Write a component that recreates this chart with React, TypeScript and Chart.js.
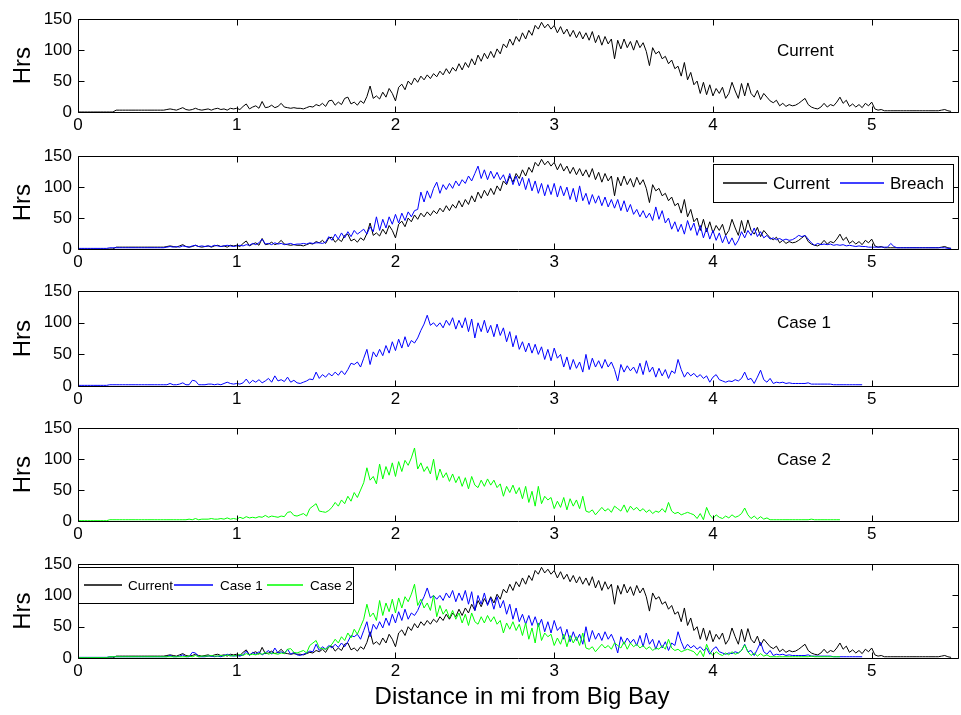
import React, { useEffect, useRef } from "react";
import { Chart, registerables } from "chart.js";

Chart.register(...registerables);

// Sampling interval of the distance grid, in hundredths of a mile.
const STEP_HUNDREDTHS = 2;

// Hours per distance bin, starting at 0 mi, one value every 0.02 mi.
const current: number[] = [
  0, 0, 0, 0, 0, 0, 0, 0, 0, 0,
  0, 0, 3, 3, 3, 3, 3, 3, 3, 3,
  3, 3, 3, 3, 3, 3, 3, 3, 4, 5,
  4, 3, 5, 7, 4, 3, 4, 6, 4, 3,
  4, 5, 3, 5, 6, 4, 5, 3, 6, 5,
  6, 4, 9, 13, 5, 8, 10, 6, 17, 7,
  8, 11, 7, 9, 14, 8, 7, 6, 7, 6,
  6, 5, 7, 9, 8, 12, 10, 14, 9, 18,
  19, 11, 16, 12, 22, 24, 13, 16, 11, 18,
  14, 25, 42, 22, 26, 21, 32, 24, 38, 30,
  18, 40, 45, 36, 50, 44, 55, 48, 58, 52,
  60, 54, 62, 57, 66, 60, 70, 62, 72, 66,
  78, 68, 80, 72, 86, 76, 92, 82, 95, 86,
  98, 88, 102, 94, 110, 104, 118, 108, 122, 114,
  128, 118, 132, 124, 140, 134, 145, 136, 142, 134,
  140, 128, 138, 126, 134, 122, 132, 120, 130, 118,
  128, 116, 130, 112, 124, 108, 122, 110, 118, 86,
  116, 102, 118, 104, 114, 100, 116, 104, 112, 98,
  75, 104, 94, 98, 86, 90, 78, 84, 70, 74,
  58, 80, 52, 64, 44, 50, 30, 48, 28, 44,
  26, 38, 30, 40, 22, 30, 48, 34, 22, 46,
  26, 47, 30, 24, 35, 20, 30, 24, 18, 15,
  19, 10, 14, 9, 12, 10, 11, 14, 18, 22,
  12, 8, 6, 5, 8, 14, 8, 12, 10, 16,
  24, 14, 19, 9, 13, 8, 12, 7, 14, 10,
  16, 5, 3, 4, 2, 2, 2, 2, 2, 2,
  2, 2, 2, 2, 2, 2, 2, 2, 2, 2,
  2, 2, 3, 4, 2, 1,
];

const breach: number[] = [
  1, 1, 1, 1, 1, 1, 1, 1, 1, 1,
  2, 2, 2, 2, 2, 2, 2, 2, 2, 2,
  2, 2, 2, 2, 2, 2, 2, 2, 3, 4,
  3, 4, 3, 5, 4, 3, 5, 6, 4, 5,
  4, 5, 4, 6, 5, 4, 5, 6, 5, 4,
  5, 6, 5, 7, 6, 9, 7, 10, 16, 8,
  9, 7, 10, 8, 9, 7, 8, 9, 7, 8,
  8, 9, 8, 10, 9, 10, 10, 9, 11, 20,
  14, 24, 16, 26, 18, 28, 20, 30, 24, 28,
  32, 24, 36, 28, 52, 30, 48, 34, 52, 40,
  56, 42, 58, 46, 60, 52, 62, 64, 92, 76,
  94, 82, 98, 108, 90, 104, 96, 106, 98, 110,
  102, 112, 106, 118, 110, 122, 134, 114, 128, 112,
  126, 114, 124, 112, 120, 106, 122, 104, 118, 102,
  116, 96, 114, 94, 110, 90, 106, 86, 104, 88,
  106, 84, 102, 86, 100, 80, 98, 76, 102, 78,
  90, 72, 88, 74, 86, 70, 84, 68, 80, 66,
  80, 62, 78, 60, 72, 56, 64, 52, 62, 50,
  58, 46, 68, 48, 62, 42, 50, 32, 44, 28,
  40, 24, 46, 30, 42, 22, 38, 18, 34, 16,
  30, 14, 26, 10, 22, 8, 18, 6, 14, 28,
  18, 30, 22, 34, 20, 28, 18, 22, 16, 18,
  15, 17, 14, 16, 14, 15, 18, 22, 20, 22,
  16, 10, 6, 9, 7, 8, 7, 8, 6, 7,
  6, 7, 5, 6, 5, 4, 5, 4, 4, 3,
  3, 3, 3, 3, 3, 3, 9, 4, 2, 2,
  2, 2, 2, 2, 2, 2, 2, 2, 2, 2,
  2, 2, 2, 2, 1, 1,
];

const case1: number[] = [
  1, 1, 1, 1, 1, 1, 1, 1, 1, 1,
  2, 2, 2, 2, 2, 2, 2, 2, 2, 2,
  2, 2, 2, 2, 2, 2, 2, 2, 2, 4,
  2, 2, 3, 5, 2, 2, 9, 8, 2, 2,
  2, 3, 3, 2, 3, 2, 4, 6, 4, 3,
  4, 3, 5, 11, 4, 9, 6, 10, 5, 8,
  12, 6, 16, 8, 10, 7, 14, 6, 9, 5,
  4, 6, 8, 11, 10, 22, 12, 18, 14, 20,
  16, 22, 17, 24, 18, 26, 36, 34, 38, 30,
  44, 58, 34, 54, 46, 58, 48, 64, 52, 70,
  56, 74, 60, 78, 62, 72, 68, 76, 88, 98,
  112, 96, 100, 94, 100, 92, 104, 96, 108, 90,
  104, 92, 108, 86, 106, 76, 100, 86, 104, 84,
  96, 78, 98, 80, 92, 70, 86, 62, 80, 58,
  70, 54, 68, 52, 66, 50, 62, 42, 58, 40,
  60, 44, 50, 30, 46, 26, 42, 28, 38, 22,
  50, 26, 44, 30, 40, 28, 42, 30, 38, 26,
  8, 34, 22, 32, 24, 30, 20, 36, 18, 40,
  22, 30, 14, 28, 16, 26, 12, 24, 20, 42,
  26, 14, 22, 16, 20, 14, 18, 12, 16, 6,
  14, 18, 10, 8, 6, 8, 7, 10, 8, 12,
  22, 10, 12, 4, 14, 25, 10, 6, 12, 4,
  6, 5, 6, 4, 5, 4, 4, 4, 4, 4,
  5, 3, 3, 3, 3, 3, 3, 3, 2, 2,
  2, 2, 2, 2, 2, 2, 2, 2,
];

const case2: number[] = [
  0.5, 0.5, 0.5, 0.5, 0.5, 0.5, 0.5, 0.5, 0.5, 0.5,
  2, 2, 2, 2, 2, 2, 2, 2, 2, 2,
  2, 2, 2, 2, 2, 2, 2, 2, 2, 2,
  2, 2, 2, 2, 2, 3, 2, 4, 2, 3,
  3, 3, 4, 3, 3, 4, 3, 5, 3, 4,
  3, 6, 4, 7, 5, 6, 5, 7, 6, 9,
  6, 8, 7, 6, 8, 7, 14, 15, 9, 8,
  10, 12, 8, 20, 24, 28, 16, 15, 14, 17,
  22, 30, 24, 34, 28, 40, 32, 46, 38, 50,
  62, 86, 66, 72, 60, 92, 68, 88, 74, 94,
  72, 96, 80, 98, 90, 102, 118, 84, 94, 80,
  88, 76, 100, 66, 84, 70, 78, 64, 76, 62,
  72, 56, 70, 52, 72, 58, 54, 66, 56, 68,
  58, 66, 54, 60, 40, 56, 46, 58, 44, 54,
  36, 56, 30, 48, 24, 56, 28, 40, 34, 38,
  20, 32, 22, 38, 18, 36, 24, 34, 20, 40,
  16, 14, 18, 10, 16, 22, 16, 20, 14, 24,
  20, 16, 26, 14, 24, 18, 22, 16, 20, 14,
  18, 12, 16, 14, 20, 14, 30, 16, 12, 14,
  10, 12, 14, 12, 10, 4, 12, 2, 22, 10,
  4, 10, 6, 4, 8, 5, 10, 6, 8, 12,
  21, 10, 4, 8, 3, 7, 3, 5, 2, 2,
  2, 2, 2, 2, 2, 2, 2, 2, 2, 2,
  2, 3, 2, 2, 2, 2, 2, 2, 2, 2,
  2,
];

const xTicks = [0, 1, 2, 3, 4, 5];
const yTicks = [0, 50, 100, 150];
const X_MAX = 5.55;
const Y_MAX = 150;
const Y_TITLE = "Hrs";
const X_TITLE = "Distance in mi from Big Bay";

const BLACK = "#000000";
const BLUE = "#0000ff";
const GREEN = "#00ff00";
const FONT = '"Liberation Sans", Arial, Helvetica, sans-serif';

// Figure geometry (page pixels)
const FIG_W = 961;
const FIG_H = 715;
const PAD_TOP = 12;
const Y_AXIS_W = 78;
const X_AXIS_H = 30;
const PLOT_RIGHT = 959;
const TICK_LEN = 6;

type Series = { label: string; values: number[]; color: string };
type LegendItem = { lineFrom: number; lineTo: number; textX: number };
type LegendBox = {
  x: number;
  y: number;
  w: number;
  h: number;
  rowY: number;
  fontSize: number;
  items: LegendItem[];
};
type Panel = {
  top: number;
  bottom: number;
  series: Series[];
  note?: string;
  legend?: LegendBox;
  xTitle?: boolean;
};

const sCurrent: Series = { label: "Current", values: current, color: BLACK };
const sBreach: Series = { label: "Breach", values: breach, color: BLUE };
const sCase1: Series = { label: "Case 1", values: case1, color: BLUE };
const sCase2: Series = { label: "Case 2", values: case2, color: GREEN };

const panels: Panel[] = [
  { top: 15, bottom: 112, series: [sCurrent], note: "Current" },
  {
    top: 152,
    bottom: 249,
    series: [sCurrent, sBreach],
    legend: {
      x: 713,
      y: 164,
      w: 240,
      h: 38,
      rowY: 183,
      fontSize: 17,
      items: [
        { lineFrom: 723, lineTo: 767, textX: 773 },
        { lineFrom: 840, lineTo: 884, textX: 890 },
      ],
    },
  },
  { top: 287, bottom: 386, series: [sCase1], note: "Case 1" },
  { top: 424, bottom: 521, series: [sCase2], note: "Case 2" },
  {
    top: 560,
    bottom: 658,
    series: [sCurrent, sCase1, sCase2],
    xTitle: true,
    legend: {
      x: 78,
      y: 567,
      w: 275,
      h: 36,
      rowY: 585,
      fontSize: 13.5,
      items: [
        { lineFrom: 84, lineTo: 122, textX: 128 },
        { lineFrom: 174, lineTo: 213, textX: 220 },
        { lineFrom: 267, lineTo: 303, textX: 310 },
      ],
    },
  },
];

const toPoints = (values: number[]) =>
  values.map((y, i) => ({ x: (i * STEP_HUNDREDTHS) / 100, y }));

// Axes box with inward ticks on all four sides, plus titles, notes and legends.
function makeFramePlugin(panel: Panel) {
  return {
    id: "axesFrame",
    afterDatasetsDraw(chart: any) {
      const { ctx, chartArea: a, scales } = chart;
      const offset = panel.top - PAD_TOP; // canvas y = page y - offset
      const left = Math.round(a.left) + 0.5;
      const right = Math.round(a.right) - 0.5;
      const top = Math.round(a.top) + 0.5;
      const bottom = Math.round(a.bottom) + 0.5;

      ctx.save();
      ctx.strokeStyle = "#000";
      ctx.lineWidth = 1;

      ctx.beginPath();
      ctx.rect(left, top, right - left, bottom - top);
      for (const v of xTicks) {
        const px = Math.round(scales.x.getPixelForValue(v)) + 0.5;
        ctx.moveTo(px, bottom);
        ctx.lineTo(px, bottom - TICK_LEN);
        ctx.moveTo(px, top);
        ctx.lineTo(px, top + TICK_LEN);
      }
      for (const v of yTicks) {
        const py = Math.round(scales.y.getPixelForValue(v)) + 0.5;
        ctx.moveTo(left, py);
        ctx.lineTo(left + TICK_LEN, py);
        ctx.moveTo(right, py);
        ctx.lineTo(right - TICK_LEN, py);
      }
      ctx.stroke();

      ctx.fillStyle = "#000";

      // y-axis title
      ctx.save();
      ctx.translate(23, (a.top + a.bottom) / 2);
      ctx.rotate(-Math.PI / 2);
      ctx.font = `24px ${FONT}`;
      ctx.textAlign = "center";
      ctx.textBaseline = "middle";
      ctx.fillText(Y_TITLE, 0, 0);
      ctx.restore();

      if (panel.note) {
        ctx.font = `17px ${FONT}`;
        ctx.textAlign = "left";
        ctx.textBaseline = "middle";
        ctx.fillText(panel.note, 777, a.top + 32);
      }

      if (panel.legend) {
        const lg = panel.legend;
        const bx = Math.round(lg.x) + 0.5;
        const by = Math.round(lg.y - offset) + 0.5;
        ctx.fillStyle = "#fff";
        ctx.fillRect(bx, by, lg.w, lg.h);
        ctx.strokeStyle = "#000";
        ctx.lineWidth = 1;
        ctx.strokeRect(bx, by, lg.w, lg.h);
        const ry = Math.round(lg.rowY - offset);
        ctx.font = `${lg.fontSize}px ${FONT}`;
        ctx.textAlign = "left";
        ctx.textBaseline = "middle";
        lg.items.forEach((it, i) => {
          const s = panel.series[i];
          ctx.save();
          ctx.strokeStyle = s.color;
          ctx.lineWidth = 1.4;
          ctx.beginPath();
          ctx.moveTo(it.lineFrom, ry);
          ctx.lineTo(it.lineTo, ry);
          ctx.stroke();
          ctx.restore();
          ctx.fillStyle = "#000";
          ctx.fillText(s.label, it.textX, ry + 1);
        });
      }

      if (panel.xTitle) {
        ctx.fillStyle = "#000";
        ctx.font = `24px ${FONT}`;
        ctx.textAlign = "center";
        ctx.textBaseline = "middle";
        ctx.fillText(X_TITLE, 522, 697 - offset);
      }
      ctx.restore();
    },
  };
}

function PanelChart({ panel }: { panel: Panel }) {
  const ref = useRef<HTMLCanvasElement | null>(null);
  const canvasTop = panel.top - PAD_TOP;
  const plotH = panel.bottom - panel.top;
  const canvasH = panel.xTitle ? FIG_H - canvasTop : PAD_TOP + plotH + X_AXIS_H;
  const padBottom = canvasH - PAD_TOP - plotH - X_AXIS_H;

  useEffect(() => {
    const canvas = ref.current;
    if (!canvas) return;
    // later series are drawn on top
    const datasets = panel.series.map((s, i) => ({
      label: s.label,
      data: toPoints(s.values),
      borderColor: s.color,
      backgroundColor: s.color,
      borderWidth: 1,
      pointRadius: 0,
      tension: 0,
      fill: false,
      order: panel.series.length - i,
    }));

    const chart = new Chart(canvas, {
      type: "line",
      data: { datasets },
      options: {
        animation: false,
        responsive: false,
        maintainAspectRatio: false,
        devicePixelRatio: 1,
        events: [],
        layout: {
          padding: { top: PAD_TOP, left: 0, right: FIG_W - PLOT_RIGHT, bottom: padBottom },
        },
        plugins: {
          legend: { display: false },
          tooltip: { enabled: false },
        },
        scales: {
          x: {
            type: "linear",
            min: 0,
            max: X_MAX,
            afterBuildTicks: (s: any) => {
              s.ticks = xTicks.map((value) => ({ value }));
            },
            afterFit: (s: any) => {
              s.height = X_AXIS_H;
            },
            grid: { display: false, drawTicks: false },
            border: { display: false },
            ticks: {
              color: "#000",
              font: { family: FONT, size: 17 },
              padding: 3,
              maxRotation: 0,
              autoSkip: false,
            },
          },
          y: {
            type: "linear",
            min: 0,
            max: Y_MAX,
            afterBuildTicks: (s: any) => {
              s.ticks = yTicks.map((value) => ({ value }));
            },
            afterFit: (s: any) => {
              s.width = Y_AXIS_W;
            },
            grid: { display: false, drawTicks: false },
            border: { display: false },
            ticks: {
              color: "#000",
              font: { family: FONT, size: 17 },
              padding: 6,
              autoSkip: false,
            },
          },
        },
      },
      plugins: [makeFramePlugin(panel)],
    } as any);
    return () => chart.destroy();
  }, [panel, padBottom]);

  return (
    <canvas
      ref={ref}
      width={FIG_W}
      height={canvasH}
      style={{
        position: "absolute",
        left: 0,
        top: canvasTop,
        width: FIG_W,
        height: canvasH,
      }}
    />
  );
}

export default function App() {
  return (
    <div
      style={{
        position: "absolute",
        left: 0,
        top: 0,
        width: FIG_W,
        height: FIG_H,
        background: "#ffffff",
        overflow: "hidden",
      }}
    >
      {panels.map((p, i) => (
        <PanelChart key={i} panel={p} />
      ))}
    </div>
  );
}
